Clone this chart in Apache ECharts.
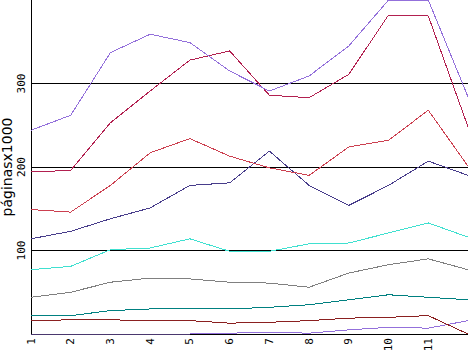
<!DOCTYPE html>
<html>
<head>
<meta charset="utf-8">
<script src="https://cdn.jsdelivr.net/npm/echarts@6/dist/echarts.min.js"></script>
<style>
html,body{margin:0;padding:0;background:#fff;}
#c{width:468px;height:351px;}
#c svg path{shape-rendering:crispEdges;}
</style>
</head>
<body>
<div id="c"></div>
<script>
const categories = ['1','2','3','4','5','6','7','8','9','10','11','12'];
const yTicks = [100, 200, 300];
const s1 = [244, 262, 337, 359, 349, 315, 291, 309, 345, 400, 400, 284];
const s2 = [194, 196, 253, 291, 328, 339, 286, 283, 311, 382, 381, 248];
const s3 = [149, 146, 178, 217, 234, 213, 199, 190, 224, 232, 268, 201];
const s4 = [114, 123, 138, 151, 178, 181, 219, 178, 154, 178, 207, 190];
const s5 = [77, 81, 101, 103, 114, 99, 99, 108, 109, 121, 133, 116];
const s6 = [44, 50, 62, 67, 66, 62, 61, 56, 73, 83, 90, 77];
const s7 = [22, 22, 28, 30, 31, 30, 32, 35, 41, 47, 44, 41];
const s8 = [16, 17, 17, 16, 16, 13, 14, 16, 19, 20, 22, 0];
const s9 = [0, 0, 0, 0, 0, 1, 2, 1, 5, 8, 7, 16];
const seriesData = [s1, s2, s3, s4, s5, s6, s7, s8, s9];
const colors = ['#9370DB', '#B22050', '#CC4050', '#483D8B', '#40E0D0', '#808080', '#008080', '#8B2020', '#9370DB'];

const chart = echarts.init(document.getElementById('c'), null, {renderer: 'svg'});
chart.setOption({
  animation: false,
  backgroundColor: '#fff',
  grid: {left: 31, right: 0, top: 0, bottom: 17, containLabel: false, outerBoundsMode: 'none'},
  xAxis: {
    type: 'category',
    data: categories,
    boundaryGap: false,
    axisLine: {show: true, lineStyle: {color: '#000', width: 1}},
    axisTick: {show: false},
    axisLabel: {
      rotate: 90, margin: 4, color: '#000',
      fontFamily: 'DejaVu Sans Mono', fontSize: 11,
      interval: function (i) { return i < categories.length - 1; }
    },
    splitLine: {show: false}
  },
  yAxis: {
    type: 'value',
    min: 0, max: 400, interval: 100,
    name: 'páginasx1000',
    nameLocation: 'middle',
    nameRotate: 90,
    nameGap: 17,
    nameMoveOverlap: false,
    nameTextStyle: {fontFamily: 'DejaVu Sans', fontSize: 14, color: '#000'},
    axisLine: {show: true, lineStyle: {color: '#000', width: 1}},
    axisTick: {show: false},
    axisLabel: {
      rotate: 90, margin: 4, color: '#000',
      fontFamily: 'DejaVu Sans Mono', fontSize: 11,
      formatter: function (v) { return yTicks.indexOf(v) >= 0 ? String(v) : ''; }
    },
    splitLine: {show: true, showMaxLine: false, lineStyle: {color: '#000', width: 1}}
  },
  series: seriesData.map(function (d, i) {
    return {
      type: 'line', data: d, symbol: 'none',
      lineStyle: {color: colors[i], width: 1},
      itemStyle: {color: colors[i]},
      z: 2 + (seriesData.length - i)
    };
  })
});
</script>
</body>
</html>
